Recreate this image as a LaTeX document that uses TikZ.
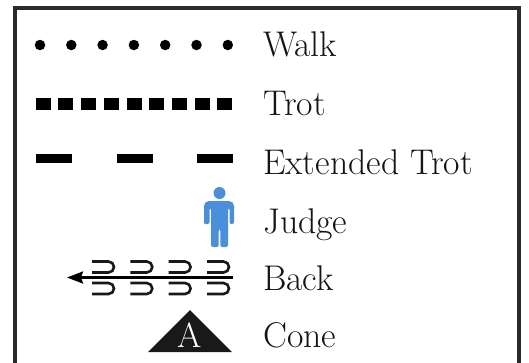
\documentclass[tikz,border=0pt]{standalone}
\usepackage{fontspec}
\usepackage{tikz}
\usetikzlibrary{shapes.geometric, arrows.meta}
\definecolor{judgeblue}{HTML}{4A8FDB}
\definecolor{framegray}{HTML}{2B2B2B}

\begin{document}
\begin{tikzpicture}[x=1pt,y=-1pt,font=\fontsize{35.7}{42}\selectfont]
    \tikzstyle{walkdot}=[circle,fill=black,minimum size=10.5pt,inner sep=0pt]
    \tikzstyle{trotbox}=[rectangle,fill=black,minimum width=15pt,minimum height=12pt,inner sep=0pt]
    \tikzstyle{extbox}=[rectangle,fill=black,minimum width=36pt,minimum height=9pt,inner sep=0pt]
    \tikzstyle{legendtext}=[anchor=base west,inner sep=0pt,text=black!92]
    \tikzstyle{backcurl}=[line width=2.6pt,black!90]

    \useasboundingbox (0,0) rectangle (529,362);

    % Frame
    \draw[framegray,line width=4pt] (15,370) -- (15,8) -- (519,8) -- (519,370);

    % Walk
    \foreach \i in {0,...,6}
        \node[walkdot] (W-\i) at (40+31.3*\i,45) {};
    \node[legendtext] (walk) at (263,56) {Walk};

    % Trot
    \foreach \i in {0,...,8}
        \node[trotbox] (T-\i) at (43.2+22.7*\i,104) {};
    \node[legendtext] (trot) at (263,115) {Trot};

    % Extended trot
    \foreach \i in {0,...,2}
        \node[extbox] (E-\i) at (54+80.5*\i,158.5) {};
    \node[legendtext] (ext) at (263,174) {Extended Trot};

    % Judge
    \fill[judgeblue] (219.5,193) circle (6);
    \fill[judgeblue] (204,222) [rounded corners=5pt] -- (204,201) -- (234,201)
        [rounded corners=2pt] -- (234,224) -- (229.5,224) -- (229.5,208)
        -- (228,208) -- (228,247) -- (220.3,247) -- (220.3,229) -- (218.7,229)
        -- (218.7,247) -- (211,247) -- (211,208) -- (209.5,208) -- (209.5,224)
        -- (204,224) -- cycle;
    \node[legendtext] (judge) at (263,233) {Judge};

    % Back
    \coordinate (back-start) at (233,277.5);
    \coordinate (back-end) at (67,277.5);
    \foreach \x in {92,130.3,168.6,207} {
        \draw[backcurl] (\x,261.5) -- ++(16.5,0) arc (-90:90:5.5) -- ++(-16.5,0);
        \draw[backcurl] (\x,283) -- ++(16.5,0) arc (-90:90:5.5) -- ++(-16.5,0);
    }
    \draw[line width=2.4pt,-{Stealth[length=16pt,width=12pt,inset=2pt]}] (back-start) -- (back-end);
    \node[legendtext] (back) at (263,290) {Back};

    % Cone
    \fill[black!90] (148,352) -- (190,310) -- (232,352) -- cycle;
    \node[anchor=base,inner sep=0pt,text=white,font=\fontsize{35}{40}\selectfont] (cone-A) at (190,347) {A};
    \node[legendtext] (cone) at (263,347) {Cone};
\end{tikzpicture}
\end{document}
